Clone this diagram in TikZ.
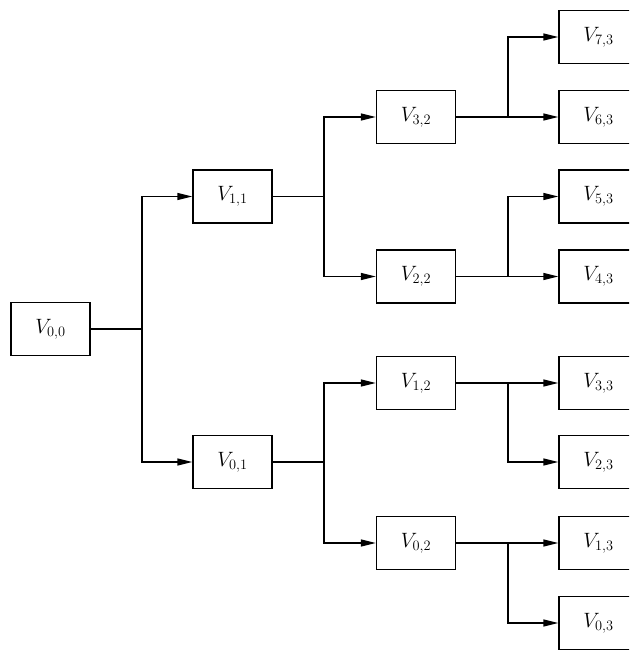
\documentclass[tikz,border=0pt]{standalone}
\usetikzlibrary{arrows.meta}
\begin{document}
\begin{tikzpicture}[x=1pt,y=-1pt,
  vbox/.style={draw,line width=1.4pt,minimum width=79pt,minimum height=53pt,inner sep=0pt,
    font=\huge},
  link/.style={line width=1.4pt},
  arr/.style={link,-{Triangle[length=15pt,width=7pt]}}]
\useasboundingbox (0,0) rectangle (629,650);
\clip (0,0) rectangle (629,650);

% level 0
\node[vbox] (v00) at (50.5,329) {$V_{0,0}$};
% level 1
\node[vbox] (v11) at (232.5,196.5) {$V_{1,1}$};
\node[vbox] (v01) at (232.5,462) {$V_{0,1}$};
% level 2
\node[vbox] (v32) at (416,117) {$V_{3,2}$};
\node[vbox] (v22) at (416,276.5) {$V_{2,2}$};
\node[vbox] (v12) at (416,383) {$V_{1,2}$};
\node[vbox] (v02) at (416,543) {$V_{0,2}$};
% level 3
\node[vbox] (v73) at (598.5,37) {$V_{7,3}$};
\node[vbox] (v63) at (598.5,117) {$V_{6,3}$};
\node[vbox] (v53) at (598.5,196.5) {$V_{5,3}$};
\node[vbox] (v43) at (598.5,276.5) {$V_{4,3}$};
\node[vbox] (v33) at (598.5,383) {$V_{3,3}$};
\node[vbox] (v23) at (598.5,462) {$V_{2,3}$};
\node[vbox] (v13) at (598.5,543) {$V_{1,3}$};
\node[vbox] (v03) at (598.5,623) {$V_{0,3}$};

% branch points
\coordinate (j00) at (142,329);
\coordinate (j11) at (324,196.5);
\coordinate (j01) at (324,462);
\coordinate (j32) at (508,117);
\coordinate (j22) at (508,276.5);
\coordinate (j12) at (508,383);
\coordinate (j02) at (508,543);

% level 0 -> level 1
\draw[link] (v00.east) -- (j00);
\draw[arr] (j00) |- (v11.west);
\draw[arr] (j00) |- (v01.west);

% level 1 -> level 2
\draw[link] (v11.east) -- (j11);
\draw[arr] (j11) |- (v32.west);
\draw[arr] (j11) |- (v22.west);
\draw[link] (v01.east) -- (j01);
\draw[arr] (j01) |- (v12.west);
\draw[arr] (j01) |- (v02.west);

% level 2 -> level 3
\draw[arr] (v32.east) -- (v63.west);
\draw[arr] (j32) |- (v73.west);
\draw[arr] (v22.east) -- (v43.west);
\draw[arr] (j22) |- (v53.west);
\draw[arr] (v12.east) -- (v33.west);
\draw[arr] (j12) |- (v23.west);
\draw[arr] (v02.east) -- (v13.west);
\draw[arr] (j02) |- (v03.west);
\end{tikzpicture}
\end{document}
